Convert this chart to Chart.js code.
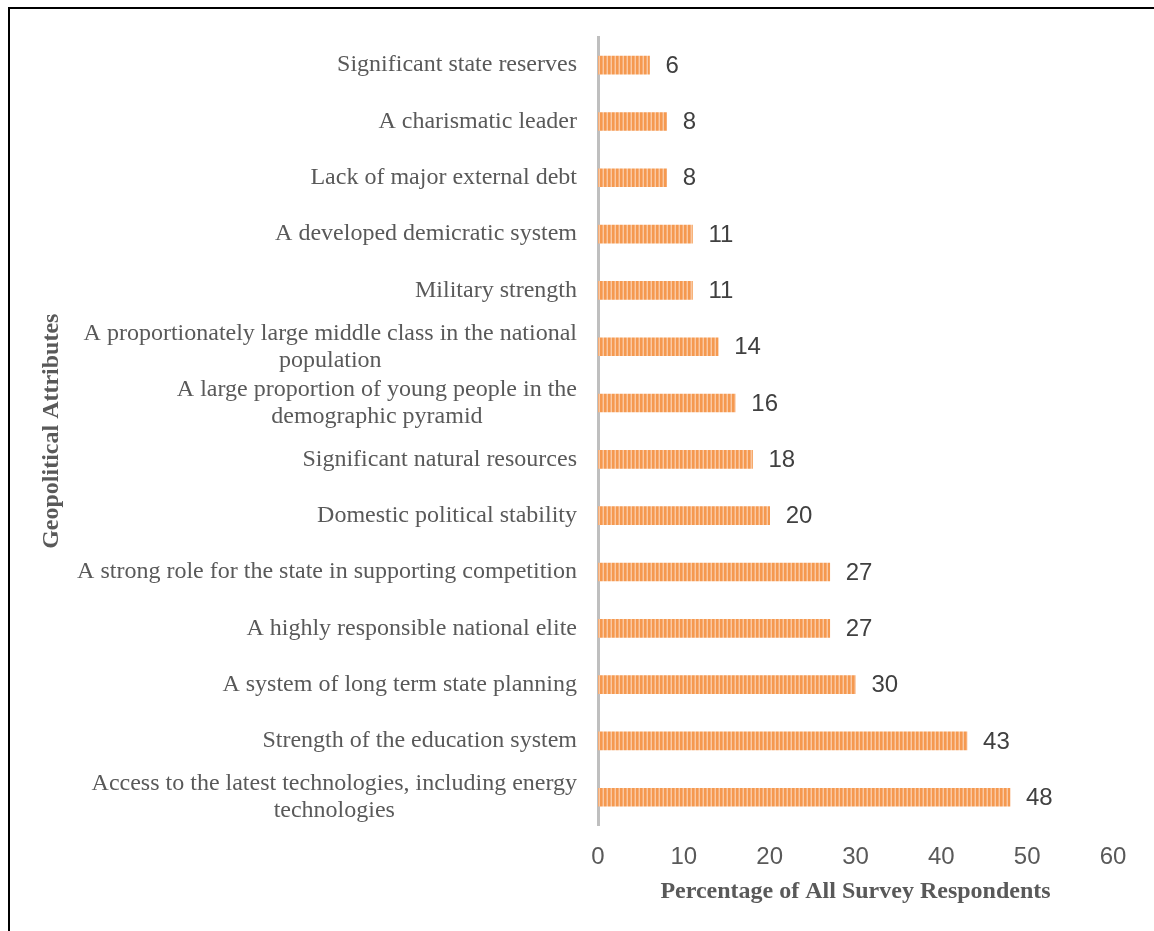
<!DOCTYPE html>
<html>
<head>
<meta charset="utf-8">
<script src="https://cdn.jsdelivr.net/npm/chart.js@4.4.1/dist/chart.umd.min.js"></script>
<style>
    html, body {
        margin: 0;
        padding: 0;
        background: #ffffff;
        overflow: hidden;
        width: 1154px;
        height: 931px;
    }
    .frame {
        position: absolute;
        left: 8px;
        top: 7px;
        width: 2000px;
        height: 2000px;
        border-top: 2px solid #000000;
        border-left: 2px solid #000000;
    }
    #chart {
        position: absolute;
        left: 0;
        top: 0;
    }
</style>
</head>
<body>
<div class="frame"></div>
<canvas id="chart" width="1154" height="931"></canvas>
<script>
const attributes = [
    ['Significant state reserves'],
    ['A charismatic leader'],
    ['Lack of major external debt'],
    ['A developed demicratic system'],
    ['Military strength'],
    ['A proportionately large middle class in the national', 'population'],
    ['A large proportion of young people in the', 'demographic pyramid'],
    ['Significant natural resources'],
    ['Domestic political stability'],
    ['A strong role for the state in supporting competition'],
    ['A highly responsible national elite'],
    ['A system of long term state planning'],
    ['Strength of the education system'],
    ['Access to the latest technologies, including energy', 'technologies'],
]
const percentages = [6, 8, 8, 11, 11, 14, 16, 18, 20, 27, 27, 30, 43, 48]
const xTicks = [0, 10, 20, 30, 40, 50, 60]

const serif = '"Liberation Serif", "Times New Roman", serif'
const sans = '"Liberation Sans", Arial, sans-serif'

// thin vertical stripes on the orange bars
const makeStripes = () => {
    const tile = document.createElement('canvas')
    tile.width = 4
    tile.height = 4
    const c = tile.getContext('2d')
    c.fillStyle = '#F5994F'
    c.fillRect(0, 0, 4, 4)
    c.fillStyle = '#F7AD76'
    c.fillRect(2, 0, 1, 4)
    c.fillStyle = '#FAC9A2'
    c.fillRect(3, 0, 1, 4)
    return c.createPattern(tile, 'repeat')
}

// category names: block sits right against the axis, lines centred inside it
const categoryLabels = {
    id: 'categoryLabels',
    afterDraw: (chart) => {
        const ctx = chart.ctx
        const scale = chart.scales.y
        const right = chart.chartArea.left - 21
        const lineHeight = 27

        ctx.save()
        ctx.font = '24px ' + serif
        ctx.fillStyle = '#595959'
        ctx.textAlign = 'center'
        ctx.textBaseline = 'middle'

        chart.data.labels.forEach((lines, i) => {
            const y = scale.getPixelForTick(i)
            const widest = Math.max(...lines.map(l => ctx.measureText(l).width))
            const cx = right - widest / 2
            const top = y - (lines.length - 1) * lineHeight / 2
            lines.forEach((line, k) => {
                ctx.fillText(line, cx, top + k * lineHeight)
            })
        })
        ctx.restore()
    }
}

const valueLabels = {
    id: 'valueLabels',
    afterDatasetsDraw: (chart) => {
        const ctx = chart.ctx
        const meta = chart.getDatasetMeta(0)

        ctx.save()
        ctx.font = '24px ' + sans
        ctx.fillStyle = '#404040'
        ctx.textAlign = 'left'
        ctx.textBaseline = 'middle'
        meta.data.forEach((bar, i) => {
            ctx.fillText(String(chart.data.datasets[0].data[i]), bar.x + 16, bar.y + 1)
        })
        ctx.restore()
    }
}

new Chart(document.getElementById('chart'), {
    type: 'bar',
    data: {
        labels: attributes,
        datasets: [{
            data: percentages,
            backgroundColor: makeStripes(),
            borderWidth: 0,
            barThickness: 18,
        }]
    },
    options: {
        indexAxis: 'y',
        responsive: false,
        animation: false,
        devicePixelRatio: 1,
        layout: {
            padding: {left: 34, top: 37, right: 41, bottom: 25}
        },
        plugins: {
            legend: {display: false},
            tooltip: {enabled: false},
        },
        scales: {
            x: {
                min: 0,
                max: 60,
                afterBuildTicks: (scale) => {
                    scale.ticks = xTicks.map(v => ({value: v}))
                },
                grid: {display: false, drawTicks: false},
                border: {display: false},
                ticks: {
                    color: '#595959',
                    padding: 18,
                    font: {family: sans, size: 24},
                },
                title: {
                    display: true,
                    text: 'Percentage of All Survey Respondents',
                    color: '#595959',
                    padding: {top: -13, bottom: 0},
                    font: {family: serif, size: 24, weight: 'bold'},
                },
            },
            y: {
                grid: {display: false, drawTicks: false},
                border: {display: true, color: '#BFBFBF', width: 3},
                ticks: {display: false},
                afterFit: (scale) => {
                    scale.width = 564
                },
                title: {
                    display: true,
                    text: 'Geopolitical Attributes',
                    color: '#595959',
                    padding: {top: 3, bottom: 0},
                    font: {family: serif, size: 24, weight: 'bold'},
                },
            },
        },
    },
    plugins: [categoryLabels, valueLabels],
})
</script>
</body>
</html>
